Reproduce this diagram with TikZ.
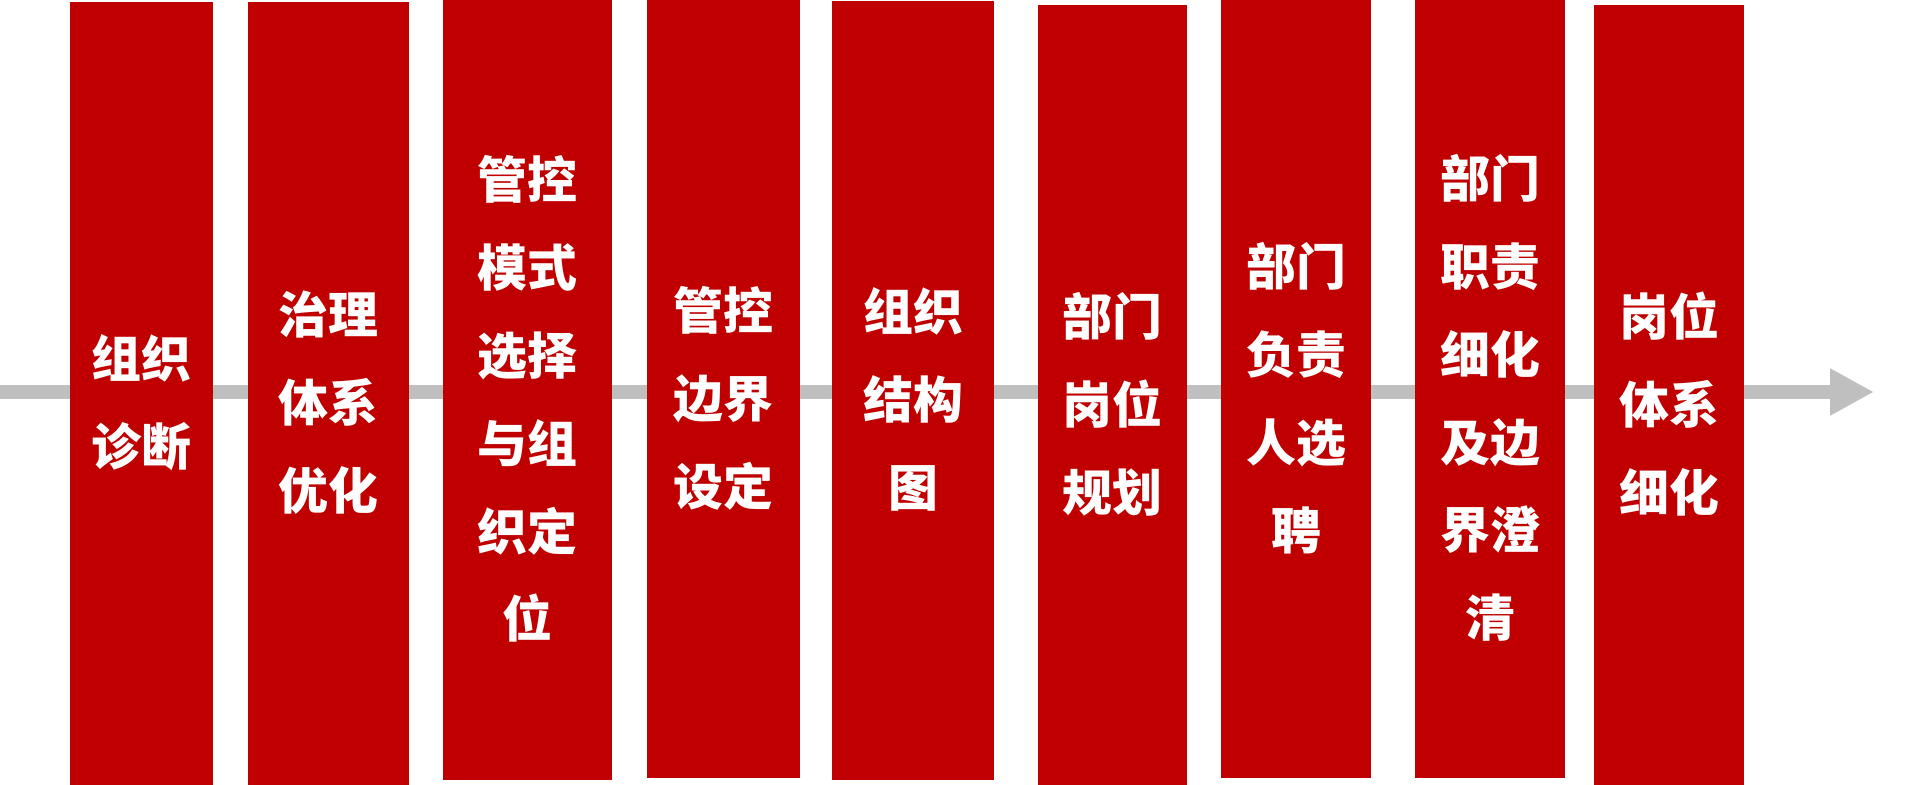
\documentclass[tikz,border=0pt]{standalone}
\usepackage{fontspec}
\usetikzlibrary{arrows.meta,backgrounds}
\newfontfamily\cjk{Noto Sans CJK SC}
\definecolor{stagered}{HTML}{C00000}
\definecolor{flowgrey}{HTML}{BFBFBF}
\newcommand{\stage}[6]{%
  \node[fill=stagered,draw=none,inner sep=0pt,
        minimum width={#4cm-#2cm},minimum height={#5cm-#3cm}]
       (#1) at ({(#2+#4)/2},{(#3+#5)/2}) {};
  \node[text=white,align=center,inner sep=0pt,
        font=\cjk\bfseries\fontsize{14.2pt}{25pt}\selectfont]
       (#1-txt) at ([yshift=-0.09cm]#1.center) {#6};}

\begin{document}
\begin{tikzpicture}
  \useasboundingbox (0,0) rectangle (19.19,7.85);

  % Timeline behind the stages.
  \coordinate (flowstart) at (0,3.93);
  \coordinate (flowend) at (18.74,3.93);
  \draw[flowgrey,line width=0.14cm,
        -{Triangle[length=0.44cm,width=0.44cm]}] (flowstart) -- (flowend);

  % Stages
  \stage{diag}{0.70}{0}{2.13}{7.825}{组织\\诊断}
  \stage{govern}{2.48}{0}{4.09}{7.825}{治理\\体系\\优化}
  \stage{mode}{4.43}{0.05}{6.12}{7.85}{管控\\模式\\选择\\与组\\织定\\位}
  \stage{bound}{6.47}{0.07}{8.00}{7.85}{管控\\边界\\设定}
  \stage{chart}{8.32}{0.05}{9.94}{7.835}{组织\\结构\\图}
  \stage{posts}{10.38}{0}{11.87}{7.80}{部门\\岗位\\规划}
  \stage{heads}{12.21}{0.07}{13.71}{7.85}{部门\\负责\\人选\\聘}
  \stage{duties}{14.15}{0.07}{15.65}{7.85}{部门\\职责\\细化\\及边\\界澄\\清}
  \stage{system}{15.94}{0}{17.44}{7.80}{岗位\\体系\\细化}
\end{tikzpicture}
\end{document}
